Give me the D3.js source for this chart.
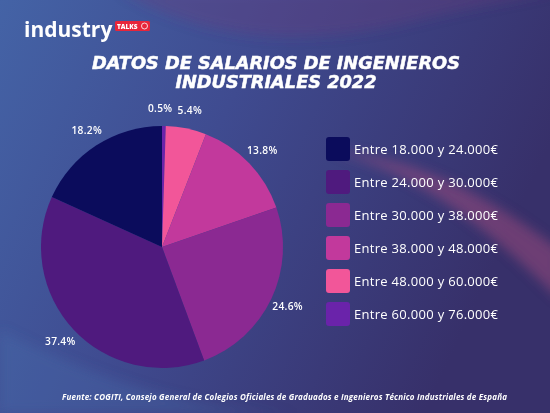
<!DOCTYPE html>
<html><head><meta charset="utf-8">
<script src="https://cdn.jsdelivr.net/npm/d3@7"></script>
<style>html,body{margin:0;padding:0;background:#3b3f7c;overflow:hidden}</style>
</head><body>
<svg id="c" width="550" height="413"></svg>
<script>
const categories = ["Entre 18.000 y 24.000€","Entre 24.000 y 30.000€","Entre 30.000 y 38.000€","Entre 38.000 y 48.000€","Entre 48.000 y 60.000€","Entre 60.000 y 76.000€"];
const values = [18.2, 37.4, 24.6, 13.8, 5.4, 0.5];
const colors = ["#0b0c5c","#4f1a7e","#8b2992","#c2399c","#f25699","#6a23aa"];
const title = ["DATOS DE SALARIOS DE INGENIEROS","INDUSTRIALES 2022"];
const source = "Fuente: COGITI, Consejo General de Colegios Oficiales de Graduados e Ingenieros Técnico Industriales de España";

const W=550,H=413;
const svg=d3.select("#c");
const defs=svg.append("defs");
const bg=defs.append("linearGradient").attr("id","bg").attr("x1","0").attr("y1","0").attr("x2","1").attr("y2","0.35");
bg.append("stop").attr("offset","0").attr("stop-color","#4463a6");
bg.append("stop").attr("offset","0.45").attr("stop-color","#3f4b90");
bg.append("stop").attr("offset","1").attr("stop-color","#37306a");
svg.append("rect").attr("width",W).attr("height",H).attr("fill","url(#bg)");
defs.append("filter").attr("id","blur").append("feGaussianBlur").attr("stdDeviation",6);
const waves=svg.append("g").attr("filter","url(#blur)");
waves.append("path").attr("d","M120,-10 C200,40 300,50 420,20 C480,5 520,0 560,-10 Z").attr("fill","#6a3a7a").attr("opacity",0.35);
waves.append("path").attr("d","M330,150 C400,170 460,200 560,300 L560,250 C480,190 420,160 330,150 Z").attr("fill","#b05080").attr("opacity",0.45);
waves.append("path").attr("d","M0,330 C100,380 200,413 300,413 L0,413 Z").attr("fill","#4a70b0").attr("opacity",0.3);

function spread(sel,target){
  sel.each(function(){
    const n=this.getComputedTextLength();
    const k=this.textContent.length;
    if(k>1) d3.select(this).style("letter-spacing",((target-n)/(k-1))+"px");
  });
}

// logo
svg.append("text").attr("x",24).attr("y",37).attr("fill","#fff")
  .style("font-family","'Open Sans',sans-serif").style("font-weight",700).style("font-size","21px").text("industry");
svg.append("rect").attr("x",115).attr("y",21).attr("width",35).attr("height",10).attr("rx",1.5).attr("fill","#e8253a");
svg.append("text").attr("x",117).attr("y",29).attr("fill","#fff")
  .style("font-family","'Open Sans',sans-serif").style("font-weight",800).style("font-size","6.5px").text("TALKS");
svg.append("circle").attr("cx",144.5).attr("cy",26).attr("r",3).attr("fill","none").attr("stroke","#fff").attr("stroke-width",0.8);

// title
const tg=svg.append("g");
const tl=tg.selectAll("text").data(title).join("text")
  .attr("x",0).attr("y",(d,i)=>69+i*19).attr("fill","#fff").attr("stroke","#fff").attr("stroke-width",0.5)
  .style("font-family","'DejaVu Sans',sans-serif").style("font-weight",700).style("font-style","italic")
  .style("font-size","16.5px").text(d=>d);
const w0=tl.nodes()[0].getComputedTextLength();
tl.style("font-size",(16.5*368/w0)+"px");
tl.attr("x",function(){return 276-this.getComputedTextLength()/2;});

// pie
const cx=162,cy=247,R=121;
const order=d3.range(values.length).reverse();
const pie=d3.pie().sort(null).value(i=>values[i]);
const arcs=pie(order);
const arc=d3.arc().innerRadius(0).outerRadius(R);
const g=svg.append("g").attr("transform",`translate(${cx},${cy})`);
g.selectAll("path").data(arcs).join("path").attr("d",arc).attr("fill",d=>colors[d.data]);
const la=d3.arc().innerRadius(139).outerRadius(139);
g.selectAll("text").data(arcs).join("text")
  .attr("transform",d=>{const c=la.centroid(d);return `translate(${c[0]-(values[d.data]<1?4:0)},${c[1]})`;})
  .attr("text-anchor","middle").attr("dy","0.35em").attr("fill","#fff")
  .style("font-family","'Open Sans',sans-serif").style("font-weight",600).style("font-size","10.2px").style("letter-spacing","0.3px")
  .text(d=>values[d.data].toFixed(1)+"%");

// legend
const ly=d3.scaleBand().domain(d3.range(categories.length)).range([137,326]).paddingInner(0.27).paddingOuter(0);
const lg=svg.append("g");
const rows=lg.selectAll("g").data(d3.range(categories.length)).join("g").attr("transform",i=>`translate(326,${ly(i)})`);
rows.append("rect").attr("width",24).attr("height",ly.bandwidth()).attr("rx",3).attr("fill",i=>colors[i]);
const lt=rows.append("text").attr("x",28).attr("y",ly.bandwidth()/2).attr("dy","0.36em").attr("fill","#fff")
  .style("font-family","'Open Sans',sans-serif").style("font-weight",500).style("font-size","13px").text(i=>categories[i]);
spread(lt,144);

// source
const st=svg.append("text").attr("x",62).attr("y",400).attr("fill","#fff")
  .style("font-family","'Open Sans',sans-serif").style("font-weight",700).style("font-style","italic").style("font-size","8px").text(source);
spread(st,445);
</script>
</body></html>
